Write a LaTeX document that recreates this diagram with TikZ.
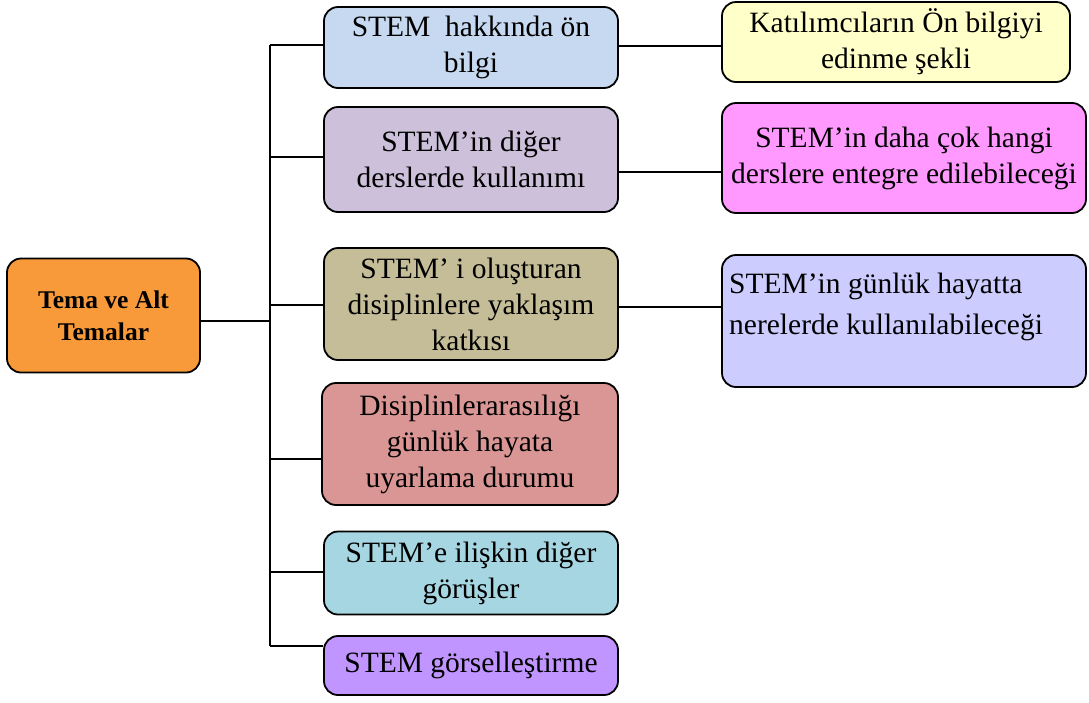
\documentclass[tikz,border=0pt]{standalone}
\usepackage{fontspec}
\setmainfont{Liberation Serif}
\begin{document}
\begin{tikzpicture}[x=1pt,y=-1pt,
  box/.style={draw=black, line width=1.8pt, rounded corners=14pt, align=center,
    inner sep=0pt, font=\fontsize{29.5}{36}\selectfont},
  link/.style={line width=2.4pt},
]
\definecolor{cTema}{HTML}{F99A3A}
\definecolor{cOne}{HTML}{C6D9F1}
\definecolor{cTwo}{HTML}{CCC0DA}
\definecolor{cThree}{HTML}{C4BD97}
\definecolor{cFour}{HTML}{D99694}
\definecolor{cFive}{HTML}{A6D6E2}
\definecolor{cSix}{HTML}{C195FF}
\definecolor{rOne}{HTML}{FFFFC9}
\definecolor{rTwo}{HTML}{FF99FF}
\definecolor{rThree}{HTML}{CCCCFF}
\useasboundingbox (0,0) rectangle (1089,702);

% root
\node[box, fill=cTema, minimum width=193pt, minimum height=114pt,
  font=\fontsize{25.5}{32}\selectfont\bfseries] (tema) at (103.5,315.5) {Tema ve Alt\\Temalar};

% sub-themes
\node[box, fill=cOne,   minimum width=294pt, minimum height=81pt]  (m1) at (471,47.5)  {STEM~ hakkında ön\\bilgi};
\node[box, fill=cTwo,   minimum width=294pt, minimum height=105pt] (m2) at (471,159.5) {STEM’in diğer\\derslerde kullanımı};
\node[box, fill=cThree, minimum width=294pt, minimum height=112pt] (m3) at (471,304)   {STEM’ i oluşturan\\disiplinlere yaklaşım\\katkısı};
\node[box, fill=cFour,  minimum width=296pt, minimum height=122pt] (m4) at (470,444)   {Disiplinlerarasılığı\\günlük hayata\\uyarlama durumu};
\node[box, fill=cFive,  minimum width=294pt, minimum height=83pt]  (m5) at (471,573)   {STEM’e ilişkin diğer\\görüşler};
\node[box, fill=cSix,   minimum width=294pt, minimum height=59pt]  (m6) at (471,665.5) {STEM görselleştirme};

% codes
\node[box, fill=rOne,   minimum width=348pt, minimum height=80pt]  (r1) at (896,42)    {Katılımcıların Ön bilgiyi\\edinme şekli};
\node[box, fill=rTwo,   minimum width=364pt, minimum height=110pt] (r2) at (904,158)   {STEM’in daha çok hangi\\derslere entegre edilebileceği};
\node[box, fill=rThree, minimum width=364pt, minimum height=132pt] (r3) at (904,321)   {};
\node[font=\fontsize{29.5}{41}\selectfont, align=left, anchor=north west, inner sep=0pt] (r3t)
  at (729,273) {STEM’in günlük hayatta\\nerelerde kullanılabileceği};

% trunk and branches
\coordinate (ttop) at (270,45);
\coordinate (tbot) at (270,646);
\coordinate (jt) at (270,321);
\coordinate (b1) at (270,45);
\coordinate (b2) at (270,157);
\coordinate (b3) at (270,305);
\coordinate (b4) at (270,459);
\coordinate (b5) at (270,572);
\coordinate (b6) at (270,646);
\draw[link] (ttop) -- (tbot);
\draw[link] (jt -| tema.east) -- (jt);
\foreach \b/\m in {b1/m1,b2/m2,b3/m3,b4/m4,b5/m5,b6/m6}
  \draw[link] (\b) -- (\b -| \m.west);

% links to codes
\coordinate (c1) at (618,46);
\coordinate (c2) at (618,172);
\coordinate (c3) at (618,307);
\draw[link] (c1 -| m1.east) -- (c1 -| r1.west);
\draw[link] (c2 -| m2.east) -- (c2 -| r2.west);
\draw[link] (c3 -| m3.east) -- (c3 -| r3.west);
\end{tikzpicture}
\end{document}
